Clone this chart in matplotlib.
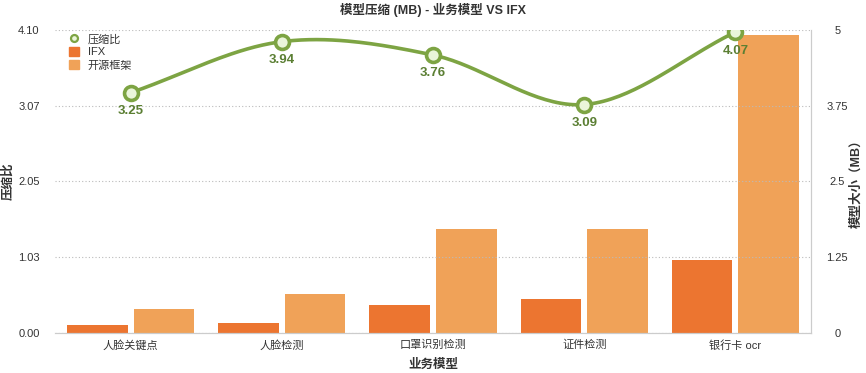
import numpy as np
import matplotlib
matplotlib.use("Agg")
import matplotlib.pyplot as plt
from matplotlib.lines import Line2D
from matplotlib.patches import Patch

plt.rcParams['font.family'] = ['Liberation Sans', 'Noto Sans CJK SC', 'DejaVu Sans']

# ---------------- data ----------------
categories = ['人脸关键点', '人脸检测', '口罩识别检测', '证件检测', '银行卡 ocr']
ratio = [3.25, 3.94, 3.76, 3.09, 4.07]
ifx_mb = [0.13, 0.165, 0.46, 0.56, 1.20]
open_mb = [0.40, 0.64, 1.72, 1.72, 4.92]
left_ticks = [0.00, 1.03, 2.05, 3.07, 4.10]
right_ticks = [0, 1.25, 2.5, 3.75, 5]
right_labels = ['0', '1.25', '2.5', '3.75', '5']

c_ifx = '#EC7530'
c_open = '#F0A258'
c_line = '#7DA443'
c_text = '#333333'


def catmull_rom(xs, ys, n=40):
    # smooth curve through the points (drawing only)
    xs = np.asarray(xs, float)
    ys = np.asarray(ys, float)
    px = np.concatenate([[2 * xs[0] - xs[1]], xs, [2 * xs[-1] - xs[-2]]])
    py = np.concatenate([[2 * ys[0] - ys[1]], ys, [2 * ys[-1] - ys[-2]]])
    ox, oy = [], []
    for i in range(1, len(px) - 2):
        t = np.linspace(0, 1, n)
        for p, o in ((px, ox), (py, oy)):
            p0, p1, p2, p3 = p[i - 1], p[i], p[i + 1], p[i + 2]
            o.extend(0.5 * ((2 * p1) + (-p0 + p2) * t
                            + (2 * p0 - 5 * p1 + 4 * p2 - p3) * t ** 2
                            + (-p0 + 3 * p1 - 3 * p2 + p3) * t ** 3))
    return np.array(ox), np.array(oy)


fig = plt.figure(figsize=(8.66, 3.73), dpi=100)
ax = fig.add_axes([0.0635, 0.107, 0.873, 0.813])
ax2 = ax.twinx()

x = np.arange(len(categories))
w = 0.40
ax2.bar(x - 0.22, ifx_mb, width=w, color=c_ifx, zorder=2)
ax2.bar(x + 0.22, open_mb, width=w, color=c_open, zorder=2)
ax2.set_ylim(0, 5)
ax2.set_yticks(right_ticks)
ax2.set_yticklabels(right_labels, ha='center')

# line on top of bars
ax.set_zorder(ax2.get_zorder() + 1)
ax.patch.set_visible(False)
sx, sy = catmull_rom(x, ratio)
ax.plot(sx, sy, color=c_line, lw=2.6, solid_capstyle='round', zorder=3)
ax.plot(x, ratio, 'o', ms=10, mfc='#EAF5DA', mec=c_line, mew=2.6, zorder=4)
for xi, yi in zip(x, ratio):
    ax.annotate(f'{yi:.2f}', (xi, yi), xytext=(0, -9), textcoords='offset points',
                ha='center', va='top', fontsize=9.5, fontweight='bold', color='#5B7F33', zorder=5)

ax.set_xlim(-0.5, len(categories) - 0.5)
ax.set_ylim(0, 4.10)
ax.set_yticks(left_ticks)
ax.set_yticklabels([f'{t:.2f}' for t in left_ticks])
ax.set_xticks(x)
ax.set_xticklabels(categories)
ax.grid(axis='y', color='#BBBBBB', ls=(0, (1, 2)), lw=0.8)
ax.set_axisbelow(True)

for a in (ax, ax2):
    a.tick_params(length=0, labelsize=8, colors=c_text)
    for s in ('top', 'left'):
        a.spines[s].set_visible(False)
    a.spines['bottom'].set_color('#CCCCCC')
    a.spines['right'].set_color('#CCCCCC')
ax.tick_params(axis='y', pad=11)
ax2.tick_params(axis='y', pad=19)
ax.tick_params(axis='x', pad=5)

fig.text(0.5, 0.022, '业务模型', ha='center', va='center', fontsize=9, fontweight='bold', color=c_text)
fig.text(0.010, 0.515, '压缩比', ha='center', va='center', rotation=90, fontsize=9,
         fontweight='bold', color=c_text)
fig.text(0.989, 0.515, '模型大小（MB）', ha='center', va='center', rotation=90, fontsize=9,
         fontweight='bold', color=c_text)
fig.text(0.5, 0.973, '模型压缩 (MB) - 业务模型 VS IFX', ha='center', va='center', fontsize=9,
         fontweight='bold', color=c_text)

handles = [
    Line2D([], [], marker='o', ls='none', ms=5, mfc='#EAF5DA', mec=c_line, mew=1.6, label='压缩比'),
    Patch(color=c_ifx, label='IFX'),
    Patch(color=c_open, label='开源框架'),
]
ax.legend(handles=handles, loc='upper left', bbox_to_anchor=(0.005, 1.02), frameon=False,
          fontsize=8, handlelength=0.9, handleheight=0.9, handletextpad=0.8, labelspacing=0.25,
          labelcolor=c_text)

fig.savefig('out.png', dpi=100)
